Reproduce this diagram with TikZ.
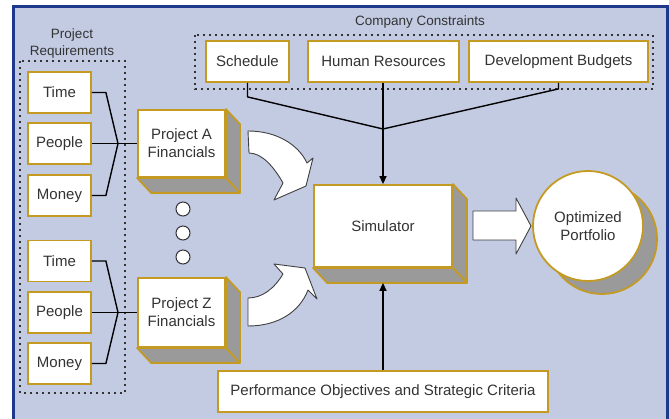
\documentclass[tikz,border=0pt]{standalone}
\usepackage{fontspec}
\setmainfont{Liberation Sans}
\usepackage{tikz}
\usetikzlibrary{arrows.meta,positioning}
\definecolor{panel}{RGB}{195,203,227}
\definecolor{borde}{RGB}{30,56,140}
\definecolor{oro}{RGB}{196,154,34}
\definecolor{gris}{RGB}{154,154,154}
\definecolor{texto}{RGB}{51,51,51}

\begin{document}
\begin{tikzpicture}[x=1pt,y=-1pt,
    every node/.style={font=\fontsize{15}{18}\selectfont, text=texto, align=center},
    caja/.style={rectangle, draw=oro, fill=white, line width=1.8pt, inner sep=0pt},
    req/.style={caja, minimum width=63pt, minimum height=41pt},
    lado/.style={fill=gris, draw=oro, line width=1.8pt, line join=round},
    titulo/.style={font=\fontsize{13.5}{17}\selectfont},
    grupo/.style={draw=texto, line width=1.6pt, dash pattern=on 1.6pt off 4.4pt},
    linea/.style={black, line width=1.4pt},
    punta/.style={linea, -{Triangle[length=8pt,width=7pt]}},
    punto/.style={circle, draw=texto, fill=white, line width=1pt, minimum size=14pt, inner sep=0pt},
    flecha/.style={fill=white, draw=black!75, line width=0.9pt, line join=round}]
    \useasboundingbox (0,0) rectangle (669,419);
    \clip (0,0) rectangle (669,419);
    % Fondo
    \fill[white] (0,0) rectangle (669,419);
    \draw[borde, fill=panel, line width=3pt] (13,7) rectangle (667,440);

    % Requisitos del proyecto (izquierda)
    \draw[grupo] (20,61) rectangle (125,393);
    \node[titulo] (req) at (72,43.5) {Project\\Requirements};
    \node[req] (t1) at (59.5,92.5) {Time};
    \node[req] (p1) at (59.5,143.5) {People};
    \node[req] (m1) at (59.5,195.5) {Money};
    \node[req] (t2) at (59.5,261) {Time};
    \node[req] (p2) at (59.5,312.5) {People};
    \node[req] (m2) at (59.5,363.5) {Money};

    % Finanzas de los proyectos
    \node[caja, minimum width=87pt, minimum height=67pt] (fa) at (181.5,143.5) {Project A\\Financials};
    \node[caja, minimum width=87pt, minimum height=69pt] (fz) at (181.5,312.5) {Project Z\\Financials};
    \foreach \y in {209,233,257}
        \node[punto] (d\y) at (183,\y) {};

    \coordinate (ja) at (118,143.5);
    \draw[linea] (t1.east) -- ++(14,0) -- (ja);
    \draw[linea] (m1.east) -- ++(14,0) -- (ja);
    \draw[linea] (p1.east) -- (fa.west);
    \coordinate (jz) at (118,312.5);
    \draw[linea] (t2.east) -- ++(14,0) -- (jz);
    \draw[linea] (m2.east) -- ++(14,0) -- (jz);
    \draw[linea] (p2.east) -- (fz.west);

    % Restricciones de la empresa (arriba)
    \draw[grupo] (195,35) rectangle (653,89);
    \node[titulo] (cc) at (420,22) {Company Constraints};
    \node[caja, minimum width=83pt, minimum height=41pt] (sch) at (247.5,61.5) {Schedule};
    \node[caja, minimum width=151pt, minimum height=41pt] (hr) at (383.5,61.5) {Human Resources};
    \node[caja, minimum width=179pt, minimum height=41pt] (dev) at (558.5,61.5) {Development Budgets};

    % Simulador
    \node[caja, minimum width=138pt, minimum height=82pt] (sim) at (383,226) {Simulator};
    \node[caja, minimum width=330pt, minimum height=41pt] (perf) at (383,391.5) {Performance Objectives and Strategic Criteria};

    % Caras laterales de las cajas 3D
    \foreach \n in {fa,fz,sim} {
        \draw[lado] (\n.north east) -- ++(14,15) -- ([shift={(14,15)}]\n.south east) -- (\n.south east) -- cycle;
        \draw[lado] (\n.south west) -- (\n.south east) -- ([shift={(14,15)}]\n.south east) -- ([shift={(14,15)}]\n.south west) -- cycle;
    }

    \coordinate (jc) at (383,129);
    \draw[linea] (sch.south) -- ++(0,14) -- (jc);
    \draw[linea] (dev.south) -- ++(0,6) -- (jc);
    \draw[punta] (hr.south -| sim.north) -- (sim.north);
    \draw[punta] (perf.north) -- ([yshift=-15pt]sim.south);

    % Flechas curvas hacia el simulador
    \draw[flecha] (248,131) .. controls (276,131) and (298,144) .. (307,163)
        -- (313,158) -- (306,186) -- (274,200) -- (283,183)
        .. controls (274,167) and (262,153) .. (249,153) -- cycle;
    \draw[flecha] (248,326) .. controls (279,326) and (300,311) .. (308,290)
        -- (317,299) -- (305,268) -- (274,264) -- (283,274)
        .. controls (274,289) and (262,298) .. (248,298) -- cycle;

    % Cartera optimizada (derecha)
    \draw[flecha] (473,211) -- (516,211) -- (516,198) -- (531,226) -- (516,254) -- (516,240) -- (473,240) -- cycle;
    \draw[lado] (602,239) circle[radius=55];
    \node[circle, draw=oro, fill=white, line width=1.8pt, minimum size=110pt, inner sep=0pt] (port) at (588,226) {Optimized\\Portfolio};
\end{tikzpicture}
\end{document}
